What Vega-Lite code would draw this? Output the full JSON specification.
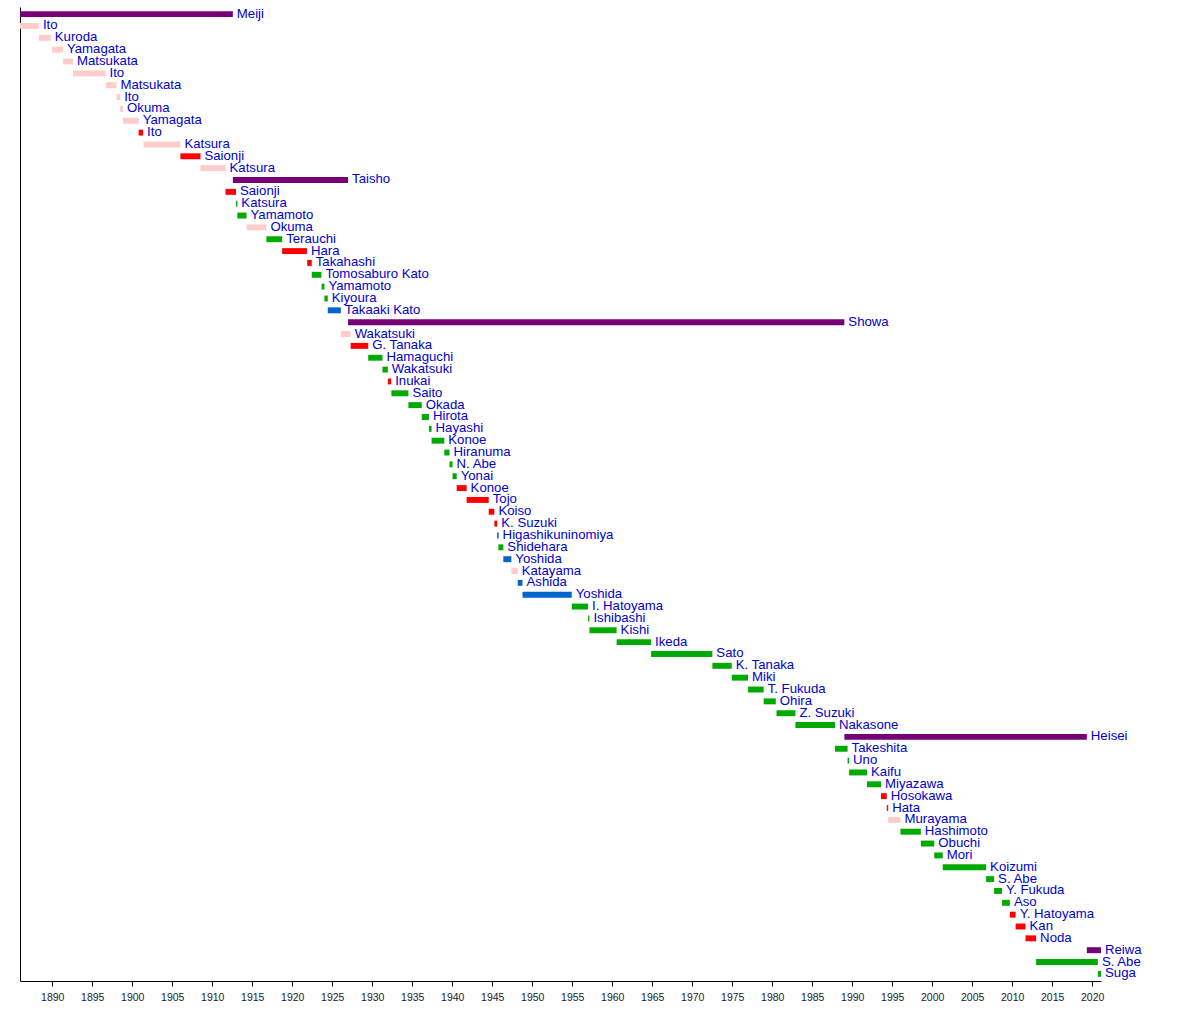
{
  "$schema": "https://vega.github.io/schema/vega-lite/v6.json",
  "width": 1081,
  "height": 974,
  "autosize": "none",
  "padding": {"left": 20, "top": 7, "right": 99, "bottom": 51},
  "background": "white",
  "config": {"view": {"stroke": null}},
  "data": {
    "values": [
      {"order": 1, "name": "Meiji", "start": 1867.08, "end": 1912.58, "group": "Emperor"},
      {"order": 2, "name": "Ito", "start": 1885.97, "end": 1888.33, "group": "Non-party"},
      {"order": 3, "name": "Kuroda", "start": 1888.33, "end": 1889.82, "group": "Non-party"},
      {"order": 4, "name": "Yamagata", "start": 1889.98, "end": 1891.34, "group": "Non-party"},
      {"order": 5, "name": "Matsukata", "start": 1891.34, "end": 1892.6, "group": "Non-party"},
      {"order": 6, "name": "Ito", "start": 1892.6, "end": 1896.66, "group": "Non-party"},
      {"order": 7, "name": "Matsukata", "start": 1896.71, "end": 1898.03, "group": "Non-party"},
      {"order": 8, "name": "Ito", "start": 1898.03, "end": 1898.49, "group": "Non-party"},
      {"order": 9, "name": "Okuma", "start": 1898.49, "end": 1898.85, "group": "Non-party"},
      {"order": 10, "name": "Yamagata", "start": 1898.85, "end": 1900.8, "group": "Non-party"},
      {"order": 11, "name": "Ito", "start": 1900.8, "end": 1901.36, "group": "Seiyukai"},
      {"order": 12, "name": "Katsura", "start": 1901.42, "end": 1906.02, "group": "Non-party"},
      {"order": 13, "name": "Saionji", "start": 1906.02, "end": 1908.53, "group": "Seiyukai"},
      {"order": 14, "name": "Katsura", "start": 1908.53, "end": 1911.66, "group": "Non-party"},
      {"order": 15, "name": "Taisho", "start": 1912.58, "end": 1926.98, "group": "Emperor"},
      {"order": 16, "name": "Saionji", "start": 1911.66, "end": 1912.97, "group": "Seiyukai"},
      {"order": 17, "name": "Katsura", "start": 1912.97, "end": 1913.14, "group": "Minseito"},
      {"order": 18, "name": "Yamamoto", "start": 1913.14, "end": 1914.29, "group": "Minseito"},
      {"order": 19, "name": "Okuma", "start": 1914.29, "end": 1916.77, "group": "Non-party"},
      {"order": 20, "name": "Terauchi", "start": 1916.77, "end": 1918.74, "group": "Minseito"},
      {"order": 21, "name": "Hara", "start": 1918.74, "end": 1921.84, "group": "Seiyukai"},
      {"order": 22, "name": "Takahashi", "start": 1921.87, "end": 1922.44, "group": "Seiyukai"},
      {"order": 23, "name": "Tomosaburo Kato", "start": 1922.44, "end": 1923.65, "group": "Minseito"},
      {"order": 24, "name": "Yamamoto", "start": 1923.67, "end": 1924.02, "group": "Minseito"},
      {"order": 25, "name": "Kiyoura", "start": 1924.02, "end": 1924.44, "group": "Minseito"},
      {"order": 26, "name": "Takaaki Kato", "start": 1924.44, "end": 1926.08, "group": "Liberal"},
      {"order": 27, "name": "Showa", "start": 1926.98, "end": 1989.02, "group": "Emperor"},
      {"order": 28, "name": "Wakatsuki", "start": 1926.08, "end": 1927.3, "group": "Non-party"},
      {"order": 29, "name": "G. Tanaka", "start": 1927.3, "end": 1929.5, "group": "Seiyukai"},
      {"order": 30, "name": "Hamaguchi", "start": 1929.5, "end": 1931.28, "group": "Minseito"},
      {"order": 31, "name": "Wakatsuki", "start": 1931.28, "end": 1931.95, "group": "Minseito"},
      {"order": 32, "name": "Inukai", "start": 1931.95, "end": 1932.37, "group": "Seiyukai"},
      {"order": 33, "name": "Saito", "start": 1932.4, "end": 1934.52, "group": "Minseito"},
      {"order": 34, "name": "Okada", "start": 1934.52, "end": 1936.19, "group": "Minseito"},
      {"order": 35, "name": "Hirota", "start": 1936.19, "end": 1937.09, "group": "Minseito"},
      {"order": 36, "name": "Hayashi", "start": 1937.09, "end": 1937.42, "group": "Minseito"},
      {"order": 37, "name": "Konoe", "start": 1937.42, "end": 1939.01, "group": "Minseito"},
      {"order": 38, "name": "Hiranuma", "start": 1939.01, "end": 1939.66, "group": "Minseito"},
      {"order": 39, "name": "N. Abe", "start": 1939.66, "end": 1940.04, "group": "Minseito"},
      {"order": 40, "name": "Yonai", "start": 1940.04, "end": 1940.56, "group": "Minseito"},
      {"order": 41, "name": "Konoe", "start": 1940.56, "end": 1941.8, "group": "Seiyukai"},
      {"order": 42, "name": "Tojo", "start": 1941.8, "end": 1944.56, "group": "Seiyukai"},
      {"order": 43, "name": "Koiso", "start": 1944.56, "end": 1945.27, "group": "Seiyukai"},
      {"order": 44, "name": "K. Suzuki", "start": 1945.27, "end": 1945.63, "group": "Seiyukai"},
      {"order": 45, "name": "Higashikuninomiya", "start": 1945.6, "end": 1945.8, "group": "Liberal"},
      {"order": 46, "name": "Shidehara", "start": 1945.77, "end": 1946.39, "group": "Minseito"},
      {"order": 47, "name": "Yoshida", "start": 1946.39, "end": 1947.39, "group": "Liberal"},
      {"order": 48, "name": "Katayama", "start": 1947.39, "end": 1948.19, "group": "Non-party"},
      {"order": 49, "name": "Ashida", "start": 1948.19, "end": 1948.79, "group": "Liberal"},
      {"order": 50, "name": "Yoshida", "start": 1948.79, "end": 1954.94, "group": "Liberal"},
      {"order": 51, "name": "I. Hatoyama", "start": 1954.94, "end": 1956.98, "group": "Minseito"},
      {"order": 52, "name": "Ishibashi", "start": 1956.98, "end": 1957.15, "group": "Minseito"},
      {"order": 53, "name": "Kishi", "start": 1957.15, "end": 1960.55, "group": "Minseito"},
      {"order": 54, "name": "Ikeda", "start": 1960.55, "end": 1964.86, "group": "Minseito"},
      {"order": 55, "name": "Sato", "start": 1964.86, "end": 1972.52, "group": "Minseito"},
      {"order": 56, "name": "K. Tanaka", "start": 1972.52, "end": 1974.94, "group": "Minseito"},
      {"order": 57, "name": "Miki", "start": 1974.94, "end": 1976.98, "group": "Minseito"},
      {"order": 58, "name": "T. Fukuda", "start": 1976.98, "end": 1978.93, "group": "Minseito"},
      {"order": 59, "name": "Ohira", "start": 1978.93, "end": 1980.45, "group": "Minseito"},
      {"order": 60, "name": "Z. Suzuki", "start": 1980.54, "end": 1982.9, "group": "Minseito"},
      {"order": 61, "name": "Nakasone", "start": 1982.9, "end": 1987.85, "group": "Minseito"},
      {"order": 62, "name": "Heisei", "start": 1989.02, "end": 2019.33, "group": "Emperor"},
      {"order": 63, "name": "Takeshita", "start": 1987.85, "end": 1989.42, "group": "Minseito"},
      {"order": 64, "name": "Uno", "start": 1989.42, "end": 1989.61, "group": "Minseito"},
      {"order": 65, "name": "Kaifu", "start": 1989.61, "end": 1991.85, "group": "Minseito"},
      {"order": 66, "name": "Miyazawa", "start": 1991.85, "end": 1993.6, "group": "Minseito"},
      {"order": 67, "name": "Hosokawa", "start": 1993.6, "end": 1994.32, "group": "Seiyukai"},
      {"order": 68, "name": "Hata", "start": 1994.32, "end": 1994.5, "group": "Seiyukai"},
      {"order": 69, "name": "Murayama", "start": 1994.5, "end": 1996.03, "group": "Non-party"},
      {"order": 70, "name": "Hashimoto", "start": 1996.03, "end": 1998.58, "group": "Minseito"},
      {"order": 71, "name": "Obuchi", "start": 1998.58, "end": 2000.26, "group": "Minseito"},
      {"order": 72, "name": "Mori", "start": 2000.26, "end": 2001.32, "group": "Minseito"},
      {"order": 73, "name": "Koizumi", "start": 2001.32, "end": 2006.74, "group": "Minseito"},
      {"order": 74, "name": "S. Abe", "start": 2006.74, "end": 2007.74, "group": "Minseito"},
      {"order": 75, "name": "Y. Fukuda", "start": 2007.74, "end": 2008.73, "group": "Minseito"},
      {"order": 76, "name": "Aso", "start": 2008.73, "end": 2009.71, "group": "Minseito"},
      {"order": 77, "name": "Y. Hatoyama", "start": 2009.71, "end": 2010.43, "group": "Seiyukai"},
      {"order": 78, "name": "Kan", "start": 2010.43, "end": 2011.67, "group": "Seiyukai"},
      {"order": 79, "name": "Noda", "start": 2011.67, "end": 2012.99, "group": "Seiyukai"},
      {"order": 80, "name": "Reiwa", "start": 2019.33, "end": 2021.1, "group": "Emperor"},
      {"order": 81, "name": "S. Abe", "start": 2012.99, "end": 2020.71, "group": "Minseito"},
      {"order": 82, "name": "Suga", "start": 2020.71, "end": 2021.1, "group": "Minseito"}
    ]
  },
  "encoding": {
    "y": {
      "field": "order",
      "type": "ordinal",
      "sort": "ascending",
      "scale": {"paddingInner": 0, "paddingOuter": 0.1},
      "axis": {"labels": false, "ticks": false, "title": null, "domainColor": "#000000", "domainWidth": 1}
    }
  },
  "layer": [
    {
      "mark": {"type": "bar", "height": {"band": 0.5}, "clip": true},
      "encoding": {
        "x": {
          "field": "start",
          "type": "quantitative",
          "scale": {"domain": [1885.97, 2021.1], "nice": false, "zero": false},
          "axis": {
            "values": [1890, 1895, 1900, 1905, 1910, 1915, 1920, 1925, 1930, 1935, 1940, 1945, 1950, 1955, 1960, 1965, 1970, 1975, 1980, 1985, 1990, 1995, 2000, 2005, 2010, 2015, 2020],
            "format": "d",
            "title": null,
            "grid": false,
            "tickSize": 5,
            "tickColor": "#000000",
            "domainColor": "#000000",
            "labelFontSize": 10.5,
            "labelFont": "Liberation Sans",
            "labelColor": "#222222",
            "labelPadding": 6
          }
        },
        "x2": {"field": "end"},
        "color": {
          "field": "group",
          "type": "nominal",
          "scale": {
            "domain": ["Emperor", "Non-party", "Seiyukai", "Minseito", "Liberal"],
            "range": ["#770077", "#ffcccc", "#ff0000", "#00aa00", "#0066cc"]
          },
          "legend": null
        }
      }
    },
    {
      "mark": {"type": "text", "align": "left", "baseline": "middle", "dx": 4, "dy": -0.5, "fontSize": 13.2, "font": "Liberation Sans", "color": "#0000cc"},
      "encoding": {
        "x": {"field": "end", "type": "quantitative"},
        "text": {"field": "name"}
      }
    }
  ]
}
